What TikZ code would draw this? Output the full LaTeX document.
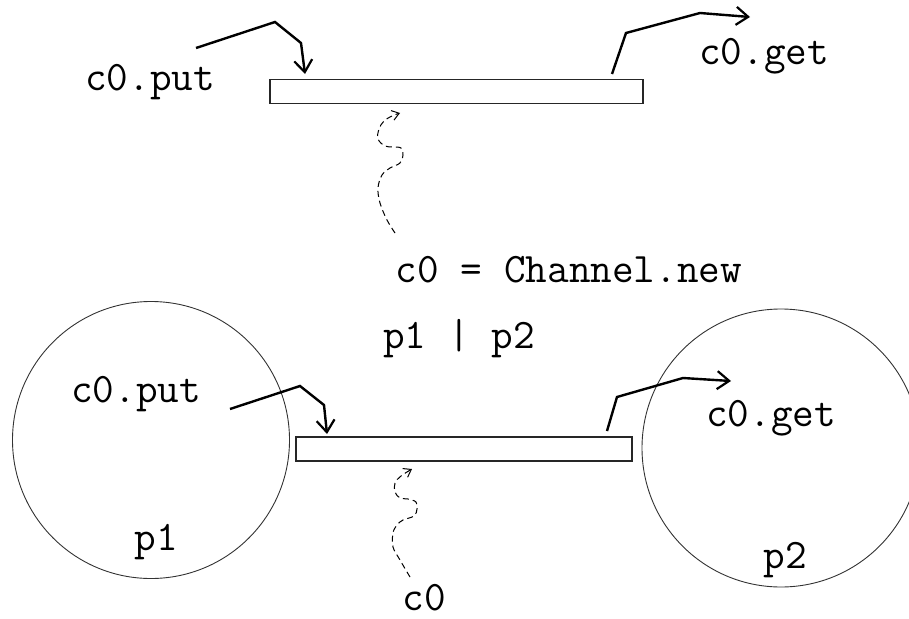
\documentclass[tikz,border=0pt]{standalone}
\usetikzlibrary{arrows.meta}
\begin{document}
\begin{tikzpicture}[x=1pt,y=-1pt,
  lbl/.style={font=\ttfamily\fontsize{42}{42}\selectfont, anchor=base, inner sep=0pt},
  chan/.style={draw=black!85, line width=1.4pt, minimum height=24pt, inner sep=0pt},
  proc/.style={draw=black!80, circle, line width=0.9pt, inner sep=0pt},
  flow/.style={line width=2.4pt, line join=miter, -{Straight Barb[length=12pt,width=18pt,line width=2.2pt]}},
  squig/.style={line width=1pt, dash pattern=on 6pt off 4pt, -{Straight Barb[length=7pt,width=10pt,line width=1pt]}}]
\useasboundingbox (0,0) rectangle (909,618);
% top part
\node[chan, minimum width=373pt] (ch1) at (456.5,91.5) {};
\node[lbl] (put1) at (150,90) {c0.put};
\node[lbl] (get1) at (764,64) {c0.get};
\node[lbl] (new) at (569,282) {c0 = Channel.new};
\coordinate (pa1) at (196,48);
\coordinate (pb1) at (305,74);
\draw[flow] (pa1) -- (275,22) -- (301,43) -- (pb1);
\coordinate (ga1) at (612,74);
\coordinate (gb1) at (750,17);
\draw[flow] (ga1) -- (626,33) -- (700,13) -- (gb1);
\coordinate (s1a) at (395,233);
\coordinate (s1b) at (400,113);
\draw[squig] plot[smooth, tension=0.6] coordinates {(s1a) (387,220) (380,203) (378,188) (382,175) (390,168) (400,163) (403,155) (401,148) (393,147) (385,146) (378,139) (379,129) (384,121) (392,116) (s1b)};
% bottom part
\node[lbl] (par) at (459,348) {p1 | p2};
\node[proc, minimum size=277pt] (p1c) at (151,440) {};
\node[proc, minimum size=278pt] (p2c) at (781,448) {};
\node[chan, minimum width=336pt] (ch2) at (464,449) {};
\node[lbl] (put2) at (136,402) {c0.put};
\node[lbl] (get2) at (771,426) {c0.get};
\node[lbl] (p1l) at (156,550) {p1};
\node[lbl] (p2l) at (785,568) {p2};
\node[lbl] (c0l) at (424,610) {c0};
\coordinate (pa2) at (230,409);
\coordinate (pb2) at (327,434);
\draw[flow] (pa2) -- (300,386) -- (324,405) -- (pb2);
\coordinate (ga2) at (607,431);
\coordinate (gb2) at (731,381);
\draw[flow] (ga2) -- (617,397) -- (683,378) -- (gb2);
\coordinate (s2a) at (410,577);
\coordinate (s2b) at (412,469);
\draw[squig] plot[smooth, tension=0.6] coordinates {(s2a) (400,560) (393,547) (393,533) (397,525) (403,520) (414,516) (417,509) (416,502) (408,499) (400,498) (395,492) (395,483) (401,476) (s2b)};
\end{tikzpicture}
\end{document}
